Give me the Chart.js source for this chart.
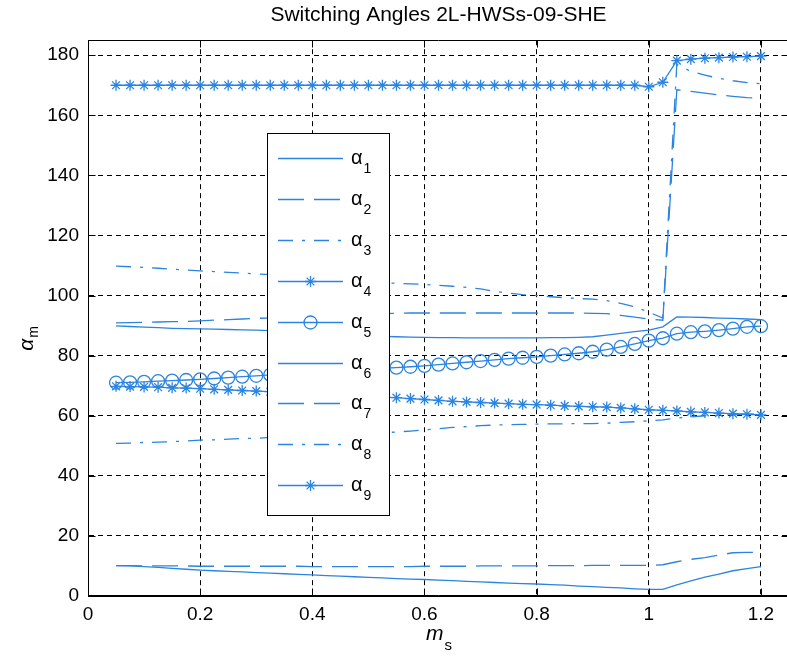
<!DOCTYPE html>
<html>
<head>
<meta charset="utf-8">
<title>Switching Angles 2L-HWSs-09-SHE</title>
<script src="https://cdn.jsdelivr.net/npm/chart.js@4.4.1/dist/chart.umd.min.js"></script>
<style>
  html, body { margin: 0; padding: 0; background: #fff; overflow: hidden; }
  canvas { display: block; }
</style>
</head>
<body>
<canvas id="chart" width="789" height="658"></canvas>
<script>
// Modulation index values (x axis)
const msValues = [0.05, 0.075, 0.1, 0.125, 0.15, 0.175, 0.2, 0.225, 0.25, 0.275,
  0.3, 0.325, 0.35, 0.375, 0.4, 0.425, 0.45, 0.475, 0.5, 0.525,
  0.55, 0.575, 0.6, 0.625, 0.65, 0.675, 0.7, 0.725, 0.75, 0.775,
  0.8, 0.825, 0.85, 0.875, 0.9, 0.925, 0.95, 0.975, 1, 1.025,
  1.05, 1.075, 1.1, 1.125, 1.15, 1.175, 1.2];

// Switching angles in degrees, one array per angle
const alpha1 = [10.1, 10.0, 9.8, 9.5, 9.2, 8.9, 8.6, 8.4, 8.2, 8.0,
  7.8, 7.6, 7.4, 7.2, 7.0, 6.8, 6.6, 6.4, 6.2, 6.0,
  5.8, 5.6, 5.5, 5.3, 5.1, 4.9, 4.7, 4.5, 4.3, 4.1,
  4.0, 3.8, 3.6, 3.3, 3.1, 2.9, 2.7, 2.4, 2.2, 2.2,
  3.7, 5.0, 6.3, 7.3, 8.4, 9.1, 9.8];
const alpha2 = [10.1, 10.1, 10.0, 10.0, 10.0, 10.0, 9.9, 9.9, 9.9, 9.9,
  9.9, 9.9, 9.9, 9.9, 9.8, 9.8, 9.8, 9.8, 9.8, 9.8,
  9.8, 9.8, 9.9, 9.9, 9.9, 9.9, 10.0, 10.0, 10.0, 10.0,
  10.0, 10.1, 10.1, 10.1, 10.2, 10.2, 10.2, 10.2, 10.2, 10.4,
  11.4, 12.2, 12.8, 13.6, 14.4, 14.5, 14.5];
const alpha3 = [50.8, 50.9, 51.1, 51.2, 51.4, 51.6, 51.9, 52.0, 52.2, 52.4,
  52.5, 52.8, 53.0, 53.2, 53.4, 53.6, 53.8, 54.0, 54.1, 54.3,
  54.6, 54.9, 55.3, 55.7, 56.1, 56.4, 56.7, 56.9, 57.0, 57.1,
  57.2, 57.3, 57.3, 57.4, 57.4, 57.5, 57.8, 58.0, 58.3, 58.6,
  59.2, 59.6, 60.0, 60.2, 60.4, 60.5, 60.6];
const alpha4 = [69.8, 69.7, 69.6, 69.5, 69.3, 69.2, 69.0, 68.8, 68.6, 68.4,
  68.2, 68.0, 67.8, 67.6, 67.4, 67.2, 67.0, 66.8, 66.5, 66.2,
  66.0, 65.7, 65.4, 65.1, 64.8, 64.6, 64.4, 64.2, 64.0, 63.8,
  63.7, 63.5, 63.3, 63.1, 63.0, 62.9, 62.6, 62.3, 62.0, 61.8,
  61.6, 61.3, 61.1, 60.9, 60.7, 60.5, 60.3];
const alpha5 = [71.0, 71.1, 71.3, 71.5, 71.7, 71.9, 72.1, 72.4, 72.7, 73.0,
  73.3, 73.6, 73.9, 74.2, 74.5, 74.8, 75.1, 75.4, 75.6, 75.8,
  76.0, 76.3, 76.6, 77.0, 77.4, 77.8, 78.2, 78.6, 79.0, 79.3,
  79.6, 80.0, 80.4, 80.8, 81.3, 82.0, 82.9, 83.9, 85.0, 85.8,
  87.3, 87.8, 88.1, 88.5, 89.0, 89.6, 89.8];
const alpha6 = [89.9, 89.7, 89.5, 89.3, 89.1, 89.0, 88.9, 88.8, 88.7, 88.6,
  88.5, 88.3, 88.1, 87.9, 87.6, 87.3, 87.0, 86.7, 86.5, 86.4,
  86.3, 86.2, 86.1, 86.0, 86.0, 85.9, 85.9, 85.9, 85.9, 85.9,
  85.9, 86.0, 86.0, 86.1, 86.3, 86.8, 87.4, 88.0, 88.5, 89.6,
  92.9, 92.8, 92.7, 92.5, 92.4, 92.2, 92.0];
const alpha7 = [90.9, 91.0, 91.1, 91.2, 91.3, 91.4, 91.6, 91.8, 92.0, 92.2,
  92.4, 92.6, 92.8, 93.0, 93.2, 93.4, 93.6, 93.8, 93.9, 94.0,
  94.1, 94.2, 94.2, 94.2, 94.2, 94.2, 94.2, 94.2, 94.2, 94.2,
  94.2, 94.2, 94.2, 94.2, 94.1, 94.0, 93.4, 92.8, 92.2, 91.8,
  168.5, 168.0, 167.4, 166.8, 166.3, 165.9, 165.7];
const alpha8 = [109.8, 109.6, 109.4, 109.1, 108.8, 108.5, 108.2, 108.0, 107.7, 107.5,
  107.2, 107.0, 106.6, 106.2, 105.8, 105.4, 105.0, 104.7, 104.5, 104.3,
  104.1, 103.9, 103.7, 103.4, 103.1, 102.7, 102.2, 101.4, 100.8, 100.3,
  100.0, 99.6, 99.3, 99.0, 98.8, 98.3, 97.4, 96.3, 94.5, 92.5,
  177.0, 174.6, 173.4, 172.3, 171.5, 170.9, 170.5];
const alpha9 = [170.0, 170.0, 170.0, 170.0, 170.0, 170.0, 170.0, 170.0, 170.0, 170.0,
  170.0, 170.0, 170.0, 170.0, 170.0, 170.0, 170.0, 170.0, 170.0, 170.0,
  170.0, 170.0, 170.0, 170.0, 170.0, 170.0, 170.0, 170.0, 170.0, 170.0,
  170.0, 170.0, 170.0, 170.0, 170.0, 170.0, 170.0, 170.0, 169.5, 171.0,
  178.2, 178.7, 179.0, 179.2, 179.4, 179.5, 179.7];

const seriesValues = [alpha1, alpha2, alpha3, alpha4, alpha5, alpha6, alpha7, alpha8, alpha9];
const seriesSubscripts = ['1', '2', '3', '4', '5', '6', '7', '8', '9'];

const xTicks = [0, 0.2, 0.4, 0.6, 0.8, 1, 1.2];
const yTicks = [0, 20, 40, 60, 80, 100, 120, 140, 160, 180];

const TITLE = 'Switching Angles 2L-HWSs-09-SHE';
const X_LABEL = ['m', 's'];
const Y_LABEL = ['\u03b1', 'm'];

/** Line look per angle: MATLAB '-', '--', '-.', '-*', '-o' */
const BLUE = '#2b84df';
const SOLID = [];
const DASHED = [26, 10];
const DASHDOT = [15, 9, 3, 9];
const seriesStyle = [
  { dash: SOLID },
  { dash: DASHED },
  { dash: DASHDOT },
  { dash: SOLID, marker: 'star', size: 5.5 },
  { dash: SOLID, marker: 'circle', size: 6.5 },
  { dash: SOLID },
  { dash: DASHED },
  { dash: DASHDOT },
  { dash: SOLID, marker: 'star', size: 5.5 },
];

const FONT = '"Liberation Sans", Arial, sans-serif';
const TICK_LEN = 7;

const datasets = seriesValues.map((vals, i) => {
  const st = seriesStyle[i];
  return {
    label: '\u03b1' + seriesSubscripts[i],
    data: msValues.map((m, k) => ({ x: m, y: vals[k] })),
    borderColor: BLUE,
    borderWidth: 1.3,
    borderDash: st.dash,
    pointStyle: st.marker || 'circle',
    pointRadius: st.marker ? st.size : 0,
    pointBorderColor: BLUE,
    pointBackgroundColor: 'rgba(0,0,0,0)',
    pointBorderWidth: 1.3,
    tension: 0,
    fill: false,
  };
});

function drawLegend(chart) {
  const ctx = chart.ctx;
  const box = { left: 267, top: 133, width: 122, height: 382 };
  ctx.save();
  ctx.fillStyle = '#fff';
  ctx.fillRect(box.left, box.top, box.width, box.height);
  ctx.strokeStyle = '#000';
  ctx.lineWidth = 1;
  ctx.setLineDash([]);
  ctx.strokeRect(box.left + 0.5, box.top + 0.5, box.width, box.height);

  chart.data.datasets.forEach((ds, i) => {
    const y = Math.round(box.top + 25 + i * 40.9) + 0.5;
    const x0 = box.left + 11, x1 = box.left + 76;
    ctx.strokeStyle = ds.borderColor;
    ctx.lineWidth = ds.borderWidth;
    ctx.setLineDash(ds.borderDash);
    ctx.beginPath();
    ctx.moveTo(x0, y);
    ctx.lineTo(x1, y);
    ctx.stroke();
    ctx.setLineDash([]);
    if (ds.pointRadius > 0) {
      ctx.fillStyle = ds.pointBackgroundColor;
      Chart.helpers.drawPoint(ctx, {
        pointStyle: ds.pointStyle, radius: ds.pointRadius,
        borderWidth: ds.pointBorderWidth, rotation: 0,
      }, (x0 + x1) / 2, y);
    }
    // label: alpha with subscript index
    ctx.fillStyle = '#000';
    ctx.textAlign = 'left';
    ctx.textBaseline = 'alphabetic';
    ctx.font = '20px ' + FONT;
    ctx.fillText('\u03b1', box.left + 84, y + 5);
    const aw = ctx.measureText('\u03b1').width;
    ctx.font = '14px ' + FONT;
    ctx.fillText(seriesSubscripts[i], box.left + 84 + aw + 1, y + 14);
  });
  ctx.restore();
}

function drawAxisTitles(ctx, area) {
  ctx.save();
  ctx.fillStyle = '#000';
  ctx.textAlign = 'left';
  ctx.textBaseline = 'alphabetic';

  // x label: italic m, subscript s
  const cx = (area.left + area.right) / 2;
  ctx.font = 'italic 21px ' + FONT;
  const mW = ctx.measureText(X_LABEL[0]).width;
  ctx.font = '15px ' + FONT;
  const sW = ctx.measureText(X_LABEL[1]).width;
  const xStart = cx - (mW + sW) / 2;
  ctx.font = 'italic 21px ' + FONT;
  ctx.fillText(X_LABEL[0], xStart, 640);
  ctx.font = '15px ' + FONT;
  ctx.fillText(X_LABEL[1], xStart + mW + 1, 650);

  // y label: alpha with subscript m, rotated
  ctx.translate(27, 339);
  ctx.rotate(-Math.PI / 2);
  ctx.font = 'italic 21px ' + FONT;
  const aW = ctx.measureText(Y_LABEL[0]).width;
  ctx.font = '14px ' + FONT;
  const smW = ctx.measureText(Y_LABEL[1]).width;
  const yStart = -(aW + smW) / 2;
  ctx.font = 'italic 21px ' + FONT;
  ctx.fillText(Y_LABEL[0], yStart, 6);
  ctx.font = '14px ' + FONT;
  ctx.fillText(Y_LABEL[1], yStart + aW + 1, 11);
  ctx.restore();
}

/** Box, inward ticks, legend and axis titles drawn MATLAB-style. */
const matlabFrame = {
  id: 'matlabFrame',
  afterDraw(chart) {
    const { ctx, chartArea: a } = chart;
    const xs = chart.scales.x, ys = chart.scales.y;
    ctx.save();
    ctx.strokeStyle = '#000';
    ctx.lineWidth = 1;
    ctx.setLineDash([]);
    const L = Math.round(a.left) + 0.5, R = Math.round(a.right) - 0.5;
    const T = Math.round(a.top) + 0.5, B = Math.round(a.bottom) - 0.5;
    ctx.beginPath();
    ctx.rect(L, T, R - L, B - T);
    for (const v of xTicks) {
      const px = Math.round(xs.getPixelForValue(v)) + 0.5;
      ctx.moveTo(px, B); ctx.lineTo(px, B - TICK_LEN);
      ctx.moveTo(px, T); ctx.lineTo(px, T + TICK_LEN);
    }
    for (const v of yTicks) {
      const py = Math.round(ys.getPixelForValue(v)) + 0.5;
      ctx.moveTo(L, py); ctx.lineTo(L + TICK_LEN, py);
      ctx.moveTo(R, py); ctx.lineTo(R - TICK_LEN, py);
    }
    ctx.stroke();
    ctx.restore();
    drawLegend(chart);
    drawAxisTitles(ctx, a);
  }
};

new Chart(document.getElementById('chart'), {
  type: 'line',
  data: { datasets },
  options: {
    responsive: false,
    animation: false,
    events: [],
    layout: { padding: 0, autoPadding: false },
    plugins: {
      legend: { display: false },
      tooltip: { enabled: false },
      title: {
        display: true,
        text: TITLE,
        fullSize: false,
        color: '#000',
        font: { family: FONT, size: 21, weight: 'normal' },
        padding: { top: 3, bottom: 12 },
      },
    },
    scales: {
      x: {
        type: 'linear',
        min: 0,
        max: 1.25,
        afterBuildTicks: (s) => { s.ticks = xTicks.map(v => ({ value: v })); },
        afterFit: (s) => { s.height = 62; s.paddingLeft = 0; s.paddingRight = 0; },
        ticks: {
          color: '#000',
          font: { family: FONT, size: 19 },
          padding: 7,
          maxRotation: 0,
          callback: (v) => String(v),
        },
        grid: { color: '#000', lineWidth: 1, drawTicks: false },
        border: { display: true, color: '#000', width: 1, dash: [5, 4] },
      },
      y: {
        type: 'linear',
        min: 0,
        max: 185,
        afterBuildTicks: (s) => { s.ticks = yTicks.map(v => ({ value: v })); },
        afterFit: (s) => { s.width = 88; },
        ticks: {
          color: '#000',
          font: { family: FONT, size: 19 },
          padding: 9,
          callback: (v) => String(v),
        },
        grid: { color: '#000', lineWidth: 1, drawTicks: false },
        border: { display: true, color: '#000', width: 1, dash: [5, 4] },
      },
    },
  },
  plugins: [matlabFrame],
});
</script>
</body>
</html>
